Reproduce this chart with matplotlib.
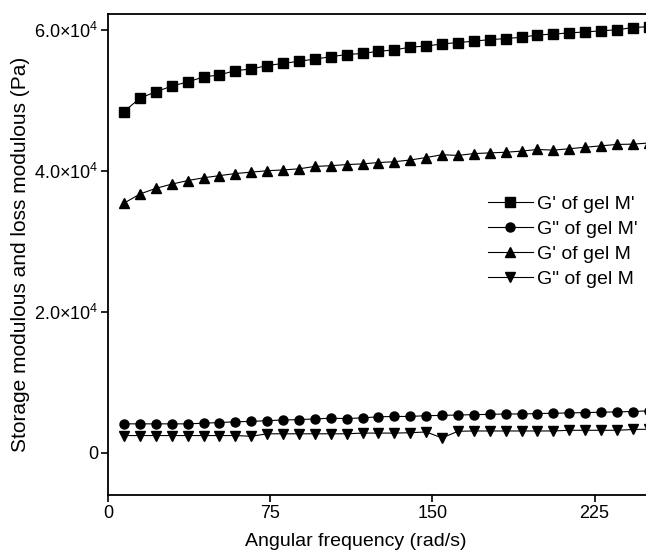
import matplotlib
matplotlib.use("Agg")
import matplotlib.pyplot as plt

plt.rcParams['font.family'] = ['Liberation Sans', 'DejaVu Sans']
plt.rcParams['mathtext.fontset'] = 'custom'
plt.rcParams['mathtext.rm'] = 'Liberation Sans'

# angular frequency (rad/s)
freq = [7.5, 14.9, 22.2, 29.6, 36.9, 44.3, 51.6, 59.0, 66.3, 73.7,
        81.0, 88.4, 95.7, 103.1, 110.4, 117.8, 125.1, 132.5, 139.8, 147.2,
        154.5, 161.9, 169.2, 176.6, 183.9, 191.3, 198.6, 206.0, 213.3, 220.7,
        228.0, 235.4, 242.7, 250.1]

g1_gel_mp = [48400, 50300, 51200, 52000, 52600, 53300, 53600, 54200, 54430, 54920,
             55220, 55530, 55830, 56180, 56480, 56640, 56940, 57140, 57530, 57690,
             57990, 58180, 58380, 58600, 58740, 58940, 59250, 59390, 59550, 59690,
             59840, 60000, 60300, 60450]

g2_gel_mp = [4090, 4090, 4090, 4090, 4090, 4180, 4280, 4380, 4440, 4540,
             4640, 4690, 4790, 4890, 4840, 4940, 5090, 5140, 5140, 5250,
             5290, 5350, 5390, 5440, 5490, 5490, 5550, 5590, 5640, 5690,
             5740, 5790, 5840, 5940]

g1_gel_m = [35400, 36700, 37500, 38100, 38600, 39000, 39300, 39600, 39800, 40000,
            40110, 40270, 40610, 40710, 40870, 40970, 41160, 41280, 41520, 41870,
            42270, 42170, 42430, 42530, 42620, 42780, 43020, 42920, 43120, 43330,
            43530, 43730, 43770, 43930]

g2_gel_m = [2430, 2430, 2430, 2430, 2430, 2430, 2430, 2430, 2330, 2680,
            2680, 2680, 2680, 2680, 2680, 2780, 2780, 2780, 2830, 2940,
            2090, 3040, 3080, 3080, 3080, 3080, 3080, 3080, 3180, 3180,
            3180, 3180, 3290, 3330]

series = [
    (g1_gel_mp, 's', "G' of gel M'"),
    (g2_gel_mp, 'o', 'G" of gel M\''),
    (g1_gel_m, '^', "G' of gel M"),
    (g2_gel_m, 'v', 'G" of gel M'),
]

fig = plt.figure(figsize=(6.46, 5.52), dpi=100)
ax = fig.add_axes([0.1669, 0.1033, 0.8331, 0.8713])

for vals, mk, lab in series:
    ax.plot(freq, vals, color='black', linewidth=0.8, marker=mk,
            markersize=6.5, markerfacecolor='black', markeredgecolor='black',
            label=lab)

ax.set_xlim(0, 248.8)
ax.set_ylim(-6000, 62230)
ax.set_xticks([0, 75, 150, 225])
ax.set_yticks([0, 20000, 40000, 60000])
ax.set_yticklabels(['0', r'2.0$\times$10$^{4}$', r'4.0$\times$10$^{4}$',
                    r'6.0$\times$10$^{4}$'])

for side in ['left', 'bottom', 'top']:
    ax.spines[side].set_linewidth(1.3)
ax.spines['right'].set_visible(False)
ax.tick_params(direction='out', length=5, width=1.2, labelsize=13, pad=2)

ax.set_xlabel('Angular frequency (rad/s)', fontsize=14)
ax.xaxis.set_label_coords(0.46, -0.08)
ax.set_ylabel('Storage modulous and loss modulous (Pa)', fontsize=15, labelpad=3)

leg = ax.legend(loc='upper left', bbox_to_anchor=(0.692, 0.64), frameon=False,
                fontsize=14, handlelength=2.3, handletextpad=0.2,
                labelspacing=0.39, borderaxespad=0)

fig.savefig('out.png', dpi=100)
